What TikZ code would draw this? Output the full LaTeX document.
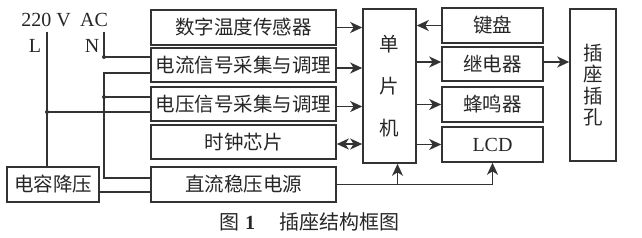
\documentclass[tikz,border=0pt]{standalone}
\usepackage{fontspec}
\setmainfont{Liberation Serif}
\newfontfamily\cjk{Noto Sans CJK SC}
\usetikzlibrary{arrows.meta}
\begin{document}
\begin{tikzpicture}[x=1pt,y=-1pt,
  line width=1.5pt, color=black!80,
  box/.style={draw=black!80, line width=1.6pt, inner sep=0pt, font=\cjk\fontsize{19.5}{19.5}\selectfont, text=black!85},
  arr/.style={-{Stealth[length=12pt,width=11pt,inset=3.5pt]}, line width=1.5pt, draw=black!80},
  darr/.style={{Stealth[length=12pt,width=11pt,inset=3.5pt]}-{Stealth[length=12pt,width=11pt,inset=3.5pt]}, line width=1.5pt, draw=black!80},
  wire/.style={line width=1.5pt, draw=black!80},
  jdot/.style={circle, fill=black!80, inner sep=0pt, minimum size=4pt},
  lbl/.style={font=\fontsize{20}{20}\selectfont, text=black!85, inner sep=0pt}]
\useasboundingbox (0,0) rectangle (642,238);

% left column
\node[box, minimum width=185pt, minimum height=35pt] (temp) at (243.5,27.5) {数字温度传感器};
\node[box, minimum width=185pt, minimum height=34pt] (cur) at (243.5,65) {电流信号采集与调理};
\node[box, minimum width=185pt, minimum height=34pt] (vol) at (243.5,104) {电压信号采集与调理};
\node[box, minimum width=185pt, minimum height=34pt] (clk) at (243.5,142) {时钟芯片};
\node[box, minimum width=185pt, minimum height=35pt] (dc) at (243.5,184.5) {直流稳压电源};

% MCU
\node[box, minimum width=53pt, minimum height=154pt, align=center, font=\cjk\fontsize{19.5}{42}\selectfont] (mcu) at (389.5,86) {单\\片\\机};

% right column
\node[box, minimum width=101pt, minimum height=35pt] (kb) at (492.5,25.5) {键盘};
\node[box, minimum width=101pt, minimum height=34pt] (relay) at (492.5,64) {继电器};
\node[box, minimum width=101pt, minimum height=35pt] (buzz) at (492.5,104.5) {蜂鸣器};
\node[box, minimum width=101pt, minimum height=35pt, font=\fontsize{20}{20}\selectfont] (lcd) at (492.5,144.5) {LCD};

% socket
\node[box, minimum width=46pt, minimum height=152pt, align=center, font=\cjk\fontsize{19.5}{21.5}\selectfont] (sock) at (593,85) {插\\座\\插\\孔};

% capacitor step-down
\node[box, minimum width=92pt, minimum height=35pt] (cap) at (53,184.5) {电容降压};

% labels
\node[lbl] (t220) at (46,20) {220 V};
\node[lbl] (tac) at (94,20) {AC};
\node[lbl] (tl) at (35,46) {L};
\node[lbl] (tn) at (92,46) {N};

% caption
\node[font=\fontsize{20}{20}\selectfont, text=black!85, inner sep=0pt] (cap1) at (309,222) {{\cjk 图}\hspace{6pt}\textbf{1}\hspace{24pt}{\cjk 插座结构框图}};

% mains wiring
\coordinate (Ltop) at (47,32);
\coordinate (Ntop) at (104,32);
\coordinate (n57) at (104,57);
\coordinate (n73) at (104,73);
\coordinate (n97) at (104,97);
\coordinate (n178) at (104,178);
\coordinate (l112) at (47,112);

\draw[wire] (Ltop) -- (Ltop |- cap.north);
\draw[wire] (Ntop) -- (n57) -- ([yshift=8pt]cur.west);
\draw[wire] ([yshift=-8pt]cur.west) -- (n73) -- (n178) -- ([yshift=6.5pt]dc.west);
\draw[wire] (n97) -- ([yshift=7pt]vol.west);
\draw[wire] (l112) -- ([yshift=-8pt]vol.west);
\draw[wire] ([yshift=-7.5pt]cap.east) -- ([yshift=-7.5pt]dc.west);
\node[jdot] (d1) at (n57) {};
\node[jdot] (d2) at (n97) {};
\node[jdot] (d3) at (l112) {};

% inputs to MCU
\draw[arr] (temp.east) -- (temp.east -| mcu.west);
\draw[arr] ([yshift=-3pt]cur.east) -- ([yshift=-3pt]cur.east -| mcu.west);
\draw[arr] ([yshift=-2.5pt]vol.east) -- ([yshift=-2.5pt]vol.east -| mcu.west);
\draw[darr] ([yshift=-2pt]clk.east) -- ([yshift=-2pt]clk.east -| mcu.west);

% MCU right side
\draw[arr] (kb.west) -- (kb.west -| mcu.east);
\draw[arr] ([yshift=2pt]relay.west -| mcu.east) -- ([yshift=2pt]relay.west);
\draw[arr] (buzz.west -| mcu.east) -- (buzz.west);
\draw[arr] (lcd.west -| mcu.east) -- (lcd.west);
\draw[arr] ([yshift=2pt]relay.east) -- ([yshift=2pt]relay.east -| sock.west);

% DC supply
\coordinate (pj) at (lcd.south |- dc.east);
\coordinate (pm) at ([xshift=8pt]mcu.south |- dc.east);
\draw[wire] (dc.east) -- (pj);
\draw[arr] (pj) -- (lcd.south);
\draw[arr] (pm) -- ([xshift=8pt]mcu.south);
\end{tikzpicture}
\end{document}
